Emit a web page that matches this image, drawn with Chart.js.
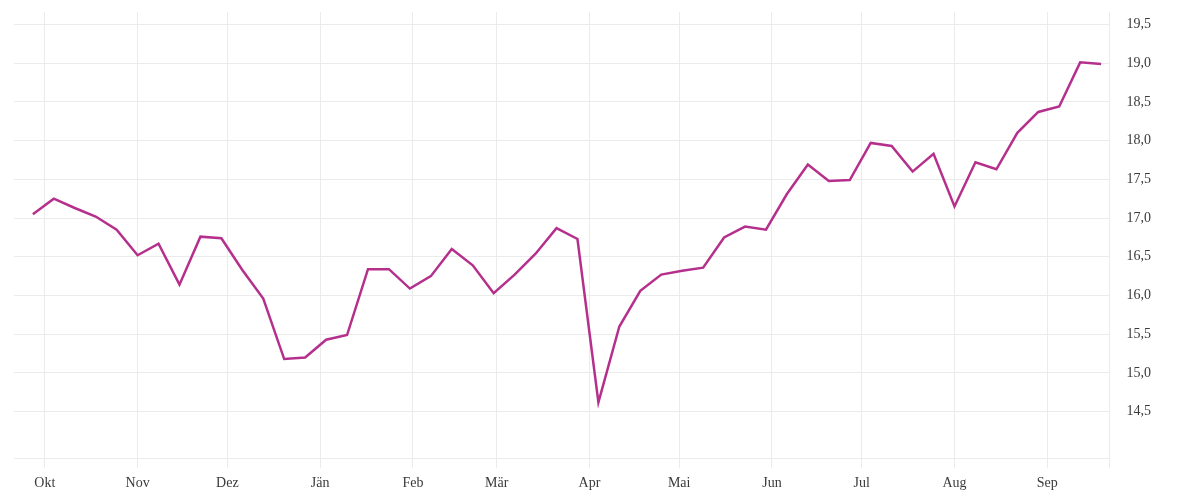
<!DOCTYPE html>
<html lang="de">

<head>
    <meta charset="UTF-8">
    <title>Verlauf</title>
    <script src="https://cdn.jsdelivr.net/npm/chart.js"></script>
    <style>
        body { margin: 0; background: #fff; }
        #wrap { width: 1200px; height: 500px; }
    </style>
</head>

<body>
    <div id="wrap"><canvas id="lineChart" width="1200" height="500"></canvas></div>

    <script>
        // weekly observations
        const dates = [
            '2018-09-27', '2018-10-04', '2018-10-11', '2018-10-18', '2018-10-25',
            '2018-11-01', '2018-11-08', '2018-11-15', '2018-11-22', '2018-11-29',
            '2018-12-06', '2018-12-13', '2018-12-20', '2018-12-27',
            '2019-01-03', '2019-01-10', '2019-01-17', '2019-01-24', '2019-01-31',
            '2019-02-07', '2019-02-14', '2019-02-21', '2019-02-28',
            '2019-03-07', '2019-03-14', '2019-03-21', '2019-03-28',
            '2019-04-04', '2019-04-11', '2019-04-18', '2019-04-25',
            '2019-05-02', '2019-05-09', '2019-05-16', '2019-05-23', '2019-05-30',
            '2019-06-06', '2019-06-13', '2019-06-20', '2019-06-27',
            '2019-07-04', '2019-07-11', '2019-07-18', '2019-07-25',
            '2019-08-01', '2019-08-08', '2019-08-15', '2019-08-22', '2019-08-29',
            '2019-09-05', '2019-09-12', '2019-09-19'
        ];
        const values = [
            17.05, 17.25, 17.13, 17.02, 16.85,
            16.52, 16.67, 16.14, 16.76, 16.74,
            16.33, 15.96, 15.18, 15.20,
            15.43, 15.49, 16.34, 16.34, 16.09,
            16.25, 16.60, 16.39, 16.03,
            16.27, 16.54, 16.87, 16.73,
            14.62, 15.60, 16.06, 16.27,
            16.32, 16.36, 16.75, 16.89, 16.85,
            17.31, 17.69, 17.48, 17.49,
            17.97, 17.93, 17.60, 17.83,
            17.15, 17.72, 17.63, 18.10, 18.37,
            18.44, 19.01, 18.99
        ];

        // x axis: month starts and labels
        const monthStarts = [
            '2018-10-01', '2018-11-01', '2018-12-01', '2019-01-01', '2019-02-01', '2019-03-01',
            '2019-04-01', '2019-05-01', '2019-06-01', '2019-07-01', '2019-08-01', '2019-09-01'
        ];
        const monthLabels = ['Okt', 'Nov', 'Dez', 'Jän', 'Feb', 'Mär', 'Apr', 'Mai', 'Jun', 'Jul', 'Aug', 'Sep'];
        const yTicks = [14.5, 15.0, 15.5, 16.0, 16.5, 17.0, 17.5, 18.0, 18.5, 19.0, 19.5];

        const xMin = -10.3, xMax = 355.8;
        const yMin = 13.9, yMax = 19.66;

        const origin = Date.UTC(2018, 9, 1);
        function dayOffset(s) {
            const p = s.split('-').map(Number);
            return (Date.UTC(p[0], p[1] - 1, p[2]) - origin) / 86400000;
        }

        const tickFont = { family: '"Liberation Serif", serif', size: 14 };
        const gridColor = '#ebebeb';
        const textColor = '#3a3a3a';

        // drop the label overhang padding chart.js adds, so layout padding is exact
        function noOverhang(scale) {
            scale.paddingTop = 0;
            scale.paddingBottom = 0;
            scale.paddingLeft = 0;
            scale.paddingRight = 0;
        }

        function generateGraph() {
            const ctx = document.getElementById('lineChart').getContext('2d');
            const monthPos = monthStarts.map(dayOffset);

            const config = {
                type: 'line',
                data: {
                    datasets: [{
                        data: dates.map((d, i) => ({ x: dayOffset(d), y: values[i] })),
                        borderColor: 'rgb(181, 48, 140)',
                        borderWidth: 2.5,
                        pointRadius: 0,
                        fill: false,
                        tension: 0
                    }]
                },
                options: {
                    responsive: false,
                    animation: false,
                    layout: { padding: { left: 14, top: 12, right: 32, bottom: 1 } },
                    plugins: {
                        legend: { display: false },
                        tooltip: { enabled: false }
                    },
                    scales: {
                        x: {
                            type: 'linear',
                            min: xMin,
                            max: xMax,
                            afterBuildTicks: (axis) => {
                                axis.ticks = monthPos.map(v => ({ value: v })).concat([{ value: xMax }]);
                            },
                            afterFit: noOverhang,
                            ticks: {
                                font: tickFont,
                                color: textColor,
                                padding: 7,
                                maxRotation: 0,
                                autoSkip: false,
                                callback: (v) => {
                                    const i = monthPos.indexOf(v);
                                    return i >= 0 ? monthLabels[i] : '';
                                }
                            },
                            grid: { color: gridColor, tickLength: 10, lineWidth: 1 },
                            border: { display: true, color: gridColor }
                        },
                        y: {
                            position: 'right',
                            min: yMin,
                            max: yMax,
                            afterBuildTicks: (axis) => {
                                axis.ticks = yTicks.map(v => ({ value: v }));
                            },
                            afterFit: noOverhang,
                            ticks: {
                                font: tickFont,
                                color: textColor,
                                padding: 17,
                                callback: (v) => v.toFixed(1).replace('.', ',')
                            },
                            grid: { color: gridColor, drawTicks: false, lineWidth: 1 },
                            border: { display: false }
                        }
                    }
                }
            };
            new Chart(ctx, config);
        }

        document.addEventListener('DOMContentLoaded', () => {
            generateGraph();
        });
    </script>
</body>

</html>
